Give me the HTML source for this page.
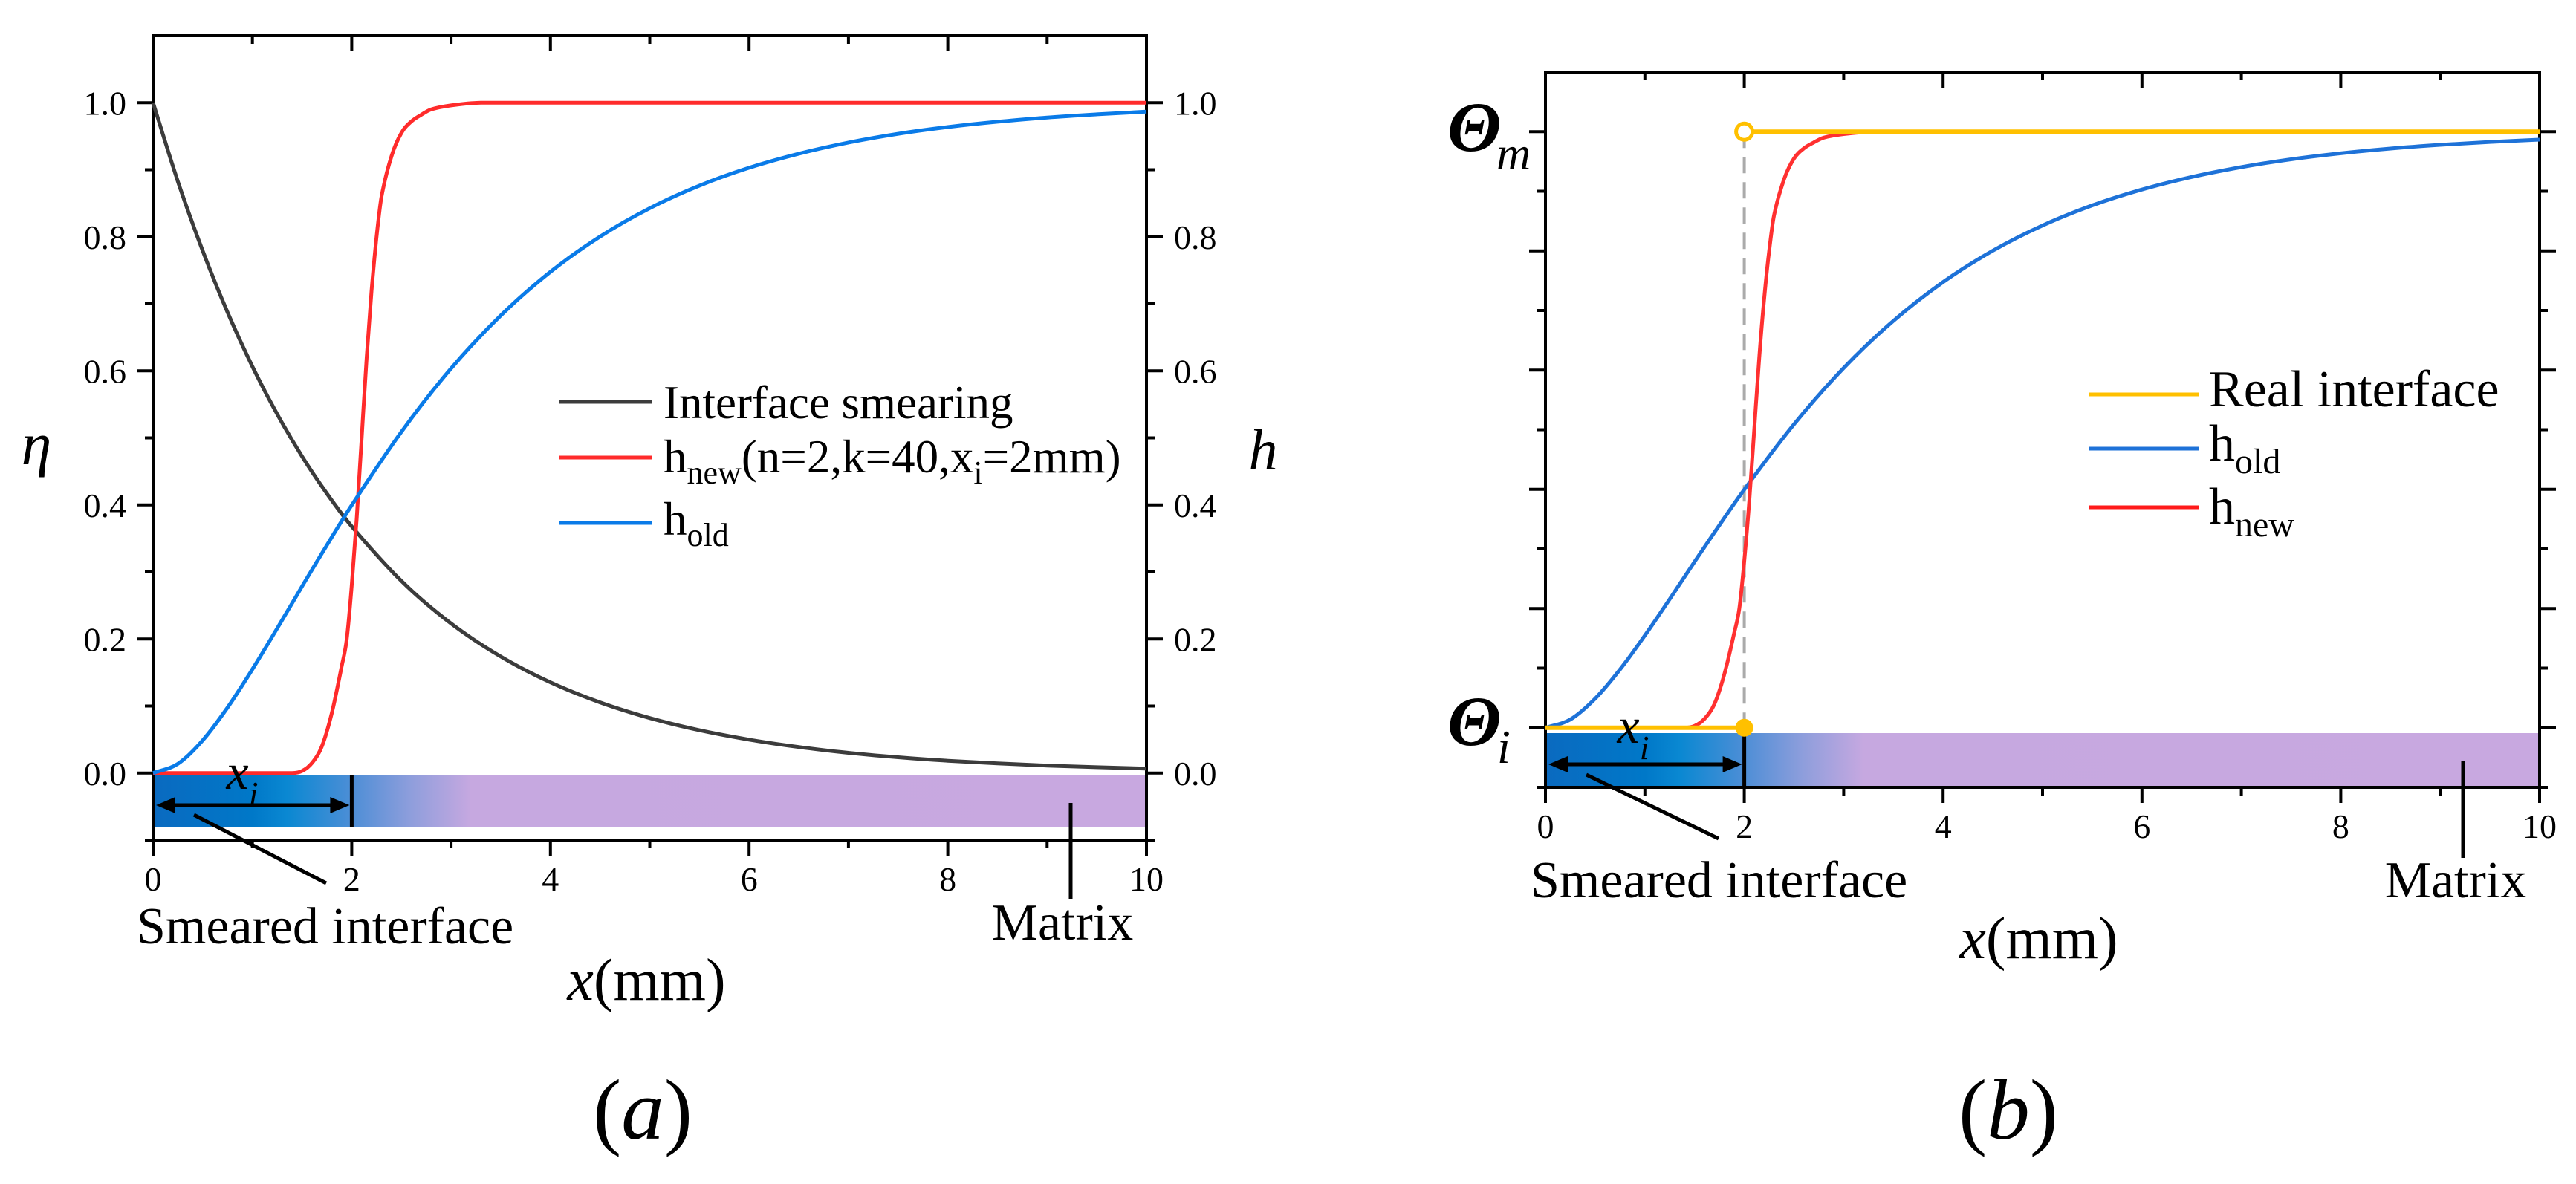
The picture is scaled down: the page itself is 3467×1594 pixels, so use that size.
<!DOCTYPE html>
<html>
<head>
<meta charset="utf-8">
<style>
html,body{margin:0;padding:0;background:#fff;}
svg{display:block;}
text, tspan{font-family:"Liberation Serif","Times New Roman",Times,"DejaVu Serif",serif !important;}
</style>
</head>
<body>
<div style="position:relative;width:3467px;height:1594px;">
<svg id="fig" width="3467" height="1594" viewBox="0 0 3467 1594" xmlns="http://www.w3.org/2000/svg" style="position:absolute;left:0;top:0" font-family="'Liberation Serif', serif">
<defs>
<linearGradient id="barA" x1="0" x2="1" y1="0" y2="0">
<stop offset="0" stop-color="#0a6ac0"/><stop offset="0.1" stop-color="#0078c8"/><stop offset="0.135" stop-color="#0a88d2"/><stop offset="0.2" stop-color="#4d8ed6"/><stop offset="0.26" stop-color="#8f9edc"/><stop offset="0.32" stop-color="#c6a8e0"/><stop offset="1" stop-color="#c8a8e0"/>
</linearGradient>
</defs>
</svg>
<script>
// ---- data ----
const xVals = [0,0.25,0.5,0.75,1,1.25,1.5,1.75,2,2.5,3,3.5,4,4.5,5,5.5,6,6.5,7,7.5,8,8.5,9,9.5,10];
const etaVals = [1,0.8825,0.7788,0.6873,0.6065,0.5353,0.4724,0.4169,0.3679,0.2865,0.2231,0.1738,0.1353,0.1054,0.0821,0.0639,0.0498,0.0388,0.0302,0.0235,0.0183,0.0143,0.0111,0.0087,0.0067];
const holdVals = [0,0.0138,0.0489,0.0978,0.1548,0.2159,0.2784,0.3400,0.3996,0.5091,0.6036,0.6826,0.7477,0.8003,0.8426,0.8763,0.9029,0.9239,0.9405,0.9536,0.9637,0.9716,0.9779,0.9827,0.9866];
const hnewX = [0,1,1.4,1.5,1.6,1.7,1.8,1.9,1.95,2.0,2.05,2.1,2.15,2.2,2.25,2.3,2.4,2.5,2.6,2.7,2.8,3.0,3.3,4,6,8,10];
const hnewVals = [0,0,0,0.003,0.015,0.04,0.09,0.16,0.2,0.28,0.38,0.5,0.62,0.72,0.8,0.86,0.92,0.955,0.972,0.982,0.99,0.996,1,1,1,1,1];
const realX = [0,2,2,10];
const realVals = [0,0,1,1];
const xTickLabels = ['0','2','4','6','8','10'];
const yTickLabels = ['0.0','0.2','0.4','0.6','0.8','1.0'];

const NS = 'http://www.w3.org/2000/svg';
const svg = document.getElementById('fig');
function mk(tag, attrs, parent){
  const e = document.createElementNS(NS, tag);
  for (const k in attrs) e.setAttribute(k, attrs[k]);
  (parent || svg).appendChild(e);
  return e;
}
function panel(x0,x1,yTop,yBot){
  return {x0,x1,yTop,yBot,
    sx: v => x0 + v/10*(x1-x0),
    sy: v => yBot - (v+0.1)/1.2*(yBot-yTop)};
}
const A = panel(206,1543,48,1131);
const B = panel(2080,3418,97,1060);

function smoothPath(P, xs, ys){
  const p = xs.map((x,i)=>[P.sx(x), P.sy(ys[i])]);
  let d = 'M'+p[0][0].toFixed(1)+','+p[0][1].toFixed(1);
  for (let i=0;i<p.length-1;i++){
    const p0 = p[Math.max(i-1,0)], p1=p[i], p2=p[i+1], p3=p[Math.min(i+2,p.length-1)];
    const h = p2[0]-p1[0];
    const s1 = (p2[1]-p0[1])/((p2[0]-p0[0])||1), s2 = (p3[1]-p1[1])/((p3[0]-p1[0])||1);
    let c1y = p1[1]+s1*h/3, c2y = p2[1]-s2*h/3;
    const lo=Math.min(p1[1],p2[1]), hi=Math.max(p1[1],p2[1]);
    c1y=Math.min(hi,Math.max(lo,c1y)); c2y=Math.min(hi,Math.max(lo,c2y));
    d += ' C'+(p1[0]+h/3).toFixed(1)+','+c1y.toFixed(1)+' '+(p2[0]-h/3).toFixed(1)+','+c2y.toFixed(1)+' '+p2[0].toFixed(1)+','+p2[1].toFixed(1);
  }
  return d;
}
function txt(x,y,str,size,extra){
  const t = mk('text', Object.assign({x:x,y:y,'font-size':size,fill:'#000','font-family':"'Liberation Serif', serif"}, extra||{}));
  t.textContent = str;
  return t;
}

function axes(P, leftLabels, rightLabels){
  let el;
  el = mk('rect',{x:P.x0,y:P.yTop,width:P.x1-P.x0,height:P.yBot-P.yTop,fill:'none',stroke:'#000','stroke-width':4});
  
  
  for (let i=0;i<=10;i++){
    const x = P.sx(i), L = (i%2===0)?21:11;
    el = mk('line',{x1:x,y1:P.yBot,x2:x,y2:P.yBot+L,stroke:'#000','stroke-width':4});
    
    
    el = mk('line',{x1:x,y1:P.yTop,x2:x,y2:P.yTop+L,stroke:'#000','stroke-width':4});
    
    
  }
  for (let j=0;j<=11;j++){
    const v = -0.1 + j*0.1, y = P.sy(v), L = (j%2===1)?22:11;
    el = mk('line',{x1:P.x0-L,y1:y,x2:P.x0,y2:y,stroke:'#000','stroke-width':4});
    
    
    el = mk('line',{x1:P.x1,y1:y,x2:P.x1+L,y2:y,stroke:'#000','stroke-width':4});
    
    
  }
  xTickLabels.forEach((lab,i)=>{
    el = txt(P.sx(i*2), P.yBot+68, lab, 46, {'text-anchor':'middle'});
    
    
  });
  if (leftLabels){
    yTickLabels.forEach((lab,i)=>{
      el = txt(P.x0-36, P.sy(i*0.2)+16, lab, 46, {'text-anchor':'end'});
      
      
    });
  }
  if (rightLabels){
    yTickLabels.forEach((lab,i)=>{
      el = txt(P.x1+37, P.sy(i*0.2)+16, lab, 46, {'text-anchor':'start'});
      
      
    });
  }
}

function curve(P, xs, ys, color, name, w){
  const el = mk('path',{d:smoothPath(P,xs,ys),fill:'none',stroke:color,'stroke-width':w||5,'stroke-linejoin':'round'});
  
  
  return el;
}

function bar(P, top, bottom){
  let el;
  el = mk('rect',{x:P.x0,y:top,width:P.x1-P.x0,height:bottom-top,fill:'url(#barA)'});
  
  
  const xi = P.sx(2);
  el = mk('line',{x1:xi,y1:top,x2:xi,y2:bottom,stroke:'#000','stroke-width':5});
  
  
  const ay = (top+bottom)/2+6;
  el = mk('line',{x1:P.x0+22,y1:ay,x2:xi-22,y2:ay,stroke:'#000','stroke-width':5});
  
  
  el = mk('polygon',{points:(P.x0+4)+','+ay+' '+(P.x0+30)+','+(ay-11)+' '+(P.x0+30)+','+(ay+11),fill:'#000'});
  
  
  el = mk('polygon',{points:(xi-3)+','+ay+' '+(xi-29)+','+(ay-11)+' '+(xi-29)+','+(ay+11),fill:'#000'});
  
  
}

// ---------- Panel A ----------
bar(A, 1043, 1113);
axes(A, true, true);
curve(A, xVals, etaVals, '#3c3c3c', 'curve-interface-smearing');
curve(A, hnewX, hnewVals, '#ff2b2b', 'curve-h-new');
curve(A, xVals, holdVals, '#0a7be8', 'curve-h-old');

// ---------- Panel B ----------
bar(B, 987, 1059);
axes(B, false, false);
let e;
e = mk('line',{x1:B.sx(2),y1:B.sy(1),x2:B.sx(2),y2:B.sy(0),stroke:'#aaaaaa','stroke-width':4,'stroke-dasharray':'22,12'});


curve(B, xVals, holdVals, '#1e72d8', 'curve-h-old');
curve(B, hnewX, hnewVals, '#ff3030', 'curve-h-new');
e = mk('path',{d:'M'+B.sx(realX[0])+','+B.sy(realVals[0])+' L'+B.sx(realX[1])+','+B.sy(realVals[1])+' M'+B.sx(realX[2])+','+B.sy(realVals[2])+' L'+B.sx(realX[3])+','+B.sy(realVals[3]),fill:'none',stroke:'#ffc000','stroke-width':6});


e = mk('circle',{cx:B.sx(realX[2]),cy:B.sy(realVals[2]),r:11,fill:'#fff',stroke:'#ffc000','stroke-width':5});


e = mk('circle',{cx:B.sx(realX[1]),cy:B.sy(realVals[1]),r:12,fill:'#ffc000'});


</script>

<svg style="position:absolute;left:0;top:0" width="3467" height="1594" font-family="'Liberation Serif', serif">
<text x="49" y="625" font-size="82" font-style="italic" text-anchor="middle">η</text>
<text x="1700" y="632" font-size="78" font-style="italic" text-anchor="middle">h</text>
<g>
<line x1="753" y1="541" x2="878" y2="541" stroke="#3c3c3c" stroke-width="5"/>
<line x1="753" y1="616" x2="878" y2="616" stroke="#ff2b2b" stroke-width="5"/>
<line x1="753" y1="704" x2="878" y2="704" stroke="#0a7be8" stroke-width="5"/>
<text x="893" y="563" font-size="63">Interface smearing</text>
<text x="893" y="636" font-size="63">h<tspan font-size="44" dy="15">new</tspan><tspan dy="-15">(n=2,k=40,x</tspan><tspan font-size="44" dy="15">i</tspan><tspan dy="-15">=2mm)</tspan></text>
<text x="893" y="720" font-size="63">h<tspan font-size="44" dy="15">old</tspan></text>
</g>
<text x="326" y="1062" font-size="68" font-style="italic" text-anchor="middle">x<tspan font-size="46" dy="22">i</tspan></text>
<line x1="261" y1="1097" x2="439" y2="1189" stroke="#000" stroke-width="5"/>
<line x1="1441" y1="1081" x2="1441" y2="1210" stroke="#000" stroke-width="5"/>
<text x="184" y="1270" font-size="70">Smeared interface</text>
<text x="1430" y="1265" font-size="70" text-anchor="middle">Matrix</text>
<text x="870" y="1346" font-size="80" text-anchor="middle"><tspan font-style="italic">x</tspan>(mm)</text>
<text x="865" y="1533" font-size="115" text-anchor="middle">(<tspan font-style="italic">a</tspan>)</text>

<text x="1948" y="203" font-size="95" font-style="italic" font-weight="bold">Θ</text>
<text x="2014" y="228" font-size="64" font-style="italic">m</text>
<text x="1948" y="1003" font-size="95" font-style="italic" font-weight="bold">Θ</text>
<text x="2015" y="1027" font-size="64" font-style="italic">i</text>
<g>
<line x1="2812" y1="531" x2="2959" y2="531" stroke="#ffc000" stroke-width="5"/>
<line x1="2812" y1="604" x2="2959" y2="604" stroke="#1e72d8" stroke-width="5"/>
<line x1="2812" y1="683" x2="2959" y2="683" stroke="#ff1a1a" stroke-width="5"/>
<text x="2973" y="547" font-size="70">Real interface</text>
<text x="2973" y="620" font-size="70">h<tspan font-size="48" dy="17">old</tspan></text>
<text x="2973" y="705" font-size="70">h<tspan font-size="48" dy="17">new</tspan></text>
</g>
<text x="2198" y="1000" font-size="68" font-style="italic" text-anchor="middle">x<tspan font-size="46" dy="22">i</tspan></text>
<line x1="2135" y1="1043" x2="2313" y2="1129" stroke="#000" stroke-width="5"/>
<line x1="3315" y1="1025" x2="3315" y2="1155" stroke="#000" stroke-width="5"/>
<text x="2060" y="1208" font-size="70">Smeared interface</text>
<text x="3305" y="1208" font-size="70" text-anchor="middle">Matrix</text>
<text x="2744" y="1290" font-size="80" text-anchor="middle"><tspan font-style="italic">x</tspan>(mm)</text>
<text x="2703" y="1533" font-size="115" text-anchor="middle">(<tspan font-style="italic">b</tspan>)</text>
</svg>
</div>
</body>
</html>
